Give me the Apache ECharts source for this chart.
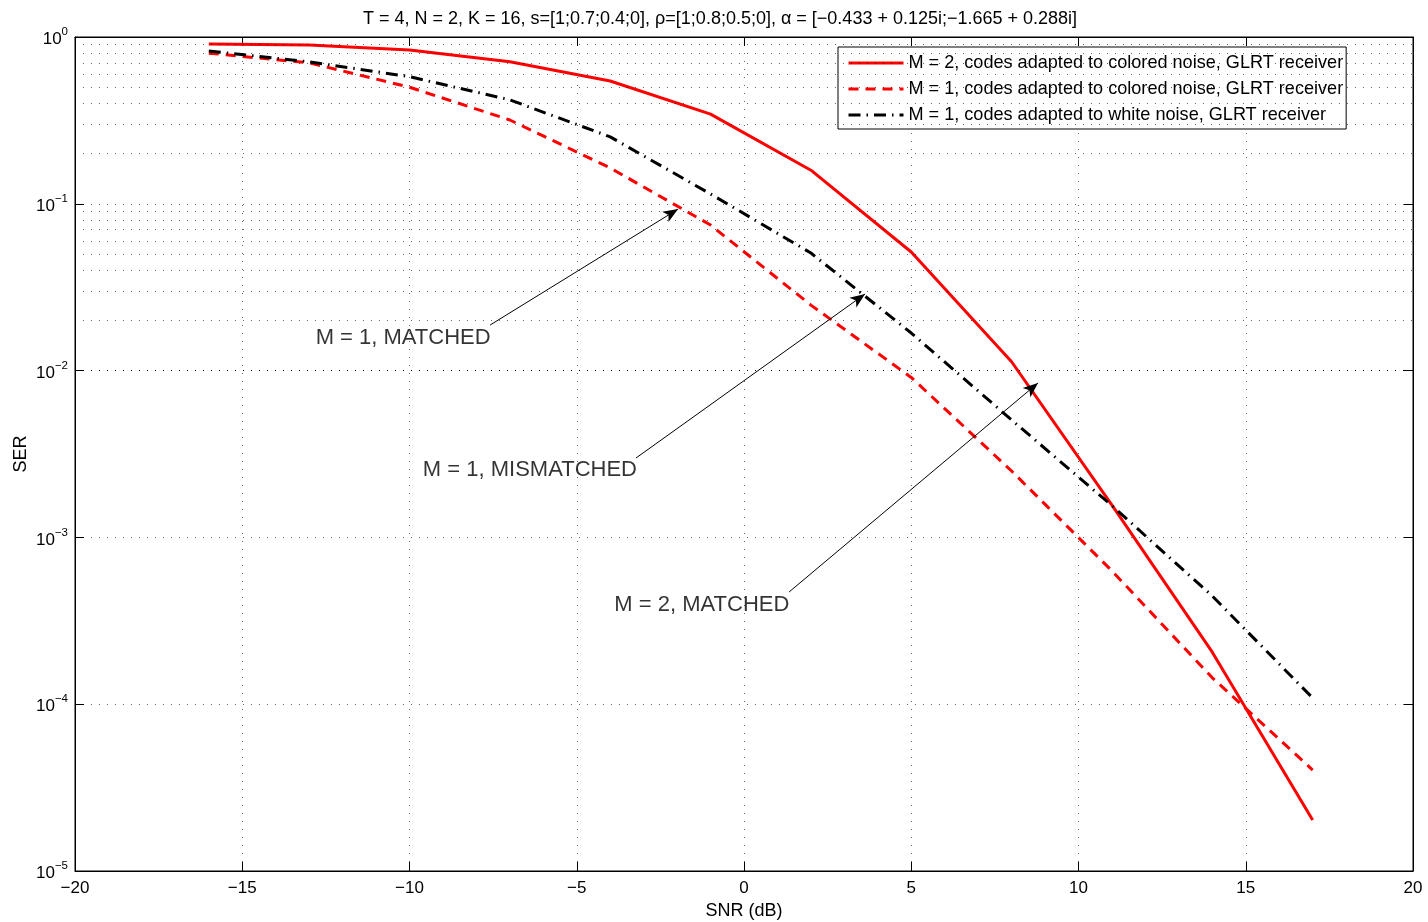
<!DOCTYPE html>
<html><head><meta charset="utf-8">
<script src="https://cdn.jsdelivr.net/npm/echarts@6/dist/echarts.min.js"></script>
<style>html,body{margin:0;padding:0;background:#fff}#c{width:1428px;height:922px}</style>
</head><body><div id="c"></div>
<script>
const snr = [-16, -13, -10, -7, -4, -1, 2, 5, 8, 11, 14, 17];
const serM2Colored = [0.908, 0.895, 0.836, 0.71, 0.545, 0.345, 0.159, 0.0514, 0.0113, 1.56e-3, 2.05e-4, 2.02e-5];
const serM1Colored = [0.80, 0.70, 0.50, 0.318, 0.164, 0.0746, 0.0247, 9.1e-3, 2.5e-3, 6.3e-4, 1.44e-4, 4.03e-5];
const serM1White = [0.824, 0.71, 0.578, 0.42, 0.252, 0.1145, 0.0507, 0.0168, 5.06e-3, 1.55e-3, 4.45e-4, 1.09e-4];
const seriesNames = [
  'M = 2, codes adapted to colored noise, GLRT receiver',
  'M = 1, codes adapted to colored noise, GLRT receiver',
  'M = 1, codes adapted to white noise, GLRT receiver'
];
const titleText = 'T = 4, N = 2, K = 16, s=[1;0.7;0.4;0], \u03c1=[1;0.8;0.5;0], \u03b1 = [\u22120.433 + 0.125i;\u22121.665 + 0.288i]';
const annotationText = ['M = 1, MATCHED', 'M = 1, MISMATCHED', 'M = 2, MATCHED'];
const annotationTextPos = [[-10.19, 0.01567], [-6.40, 0.00254], [-1.26, 3.93e-4]];
const arrowStart = [[-7.59, 0.01876], [-3.23, 0.00299], [1.35, 4.71e-4]];
const arrowEnd = [[-1.97, 0.093], [3.62, 0.0288], [8.79, 8.43e-3]];
const xMin = -20, xMax = 20, xStep = 5;
const yMin = 1e-5, yMax = 1;

const minorGrid = [];
for (let e = -5; e < 0; e++) for (let k = 2; k <= 9; k++) minorGrid.push(k * Math.pow(10, e));

const FONT = 'Liberation Sans, Arial, Helvetica, sans-serif';
const minus = s => String(s).replace('-', '\u2212');
const pair = (a, b) => a.map((v, i) => [v, b[i]]);
const dotted = { color: 'rgba(0,0,0,0.6)', width: 1, type: [1, 7] };
const boxAxisLine = { show: true, onZero: false, lineStyle: { color: '#000' } };
const boxTick = { show: true, inside: true, length: 9, lineStyle: { color: '#000' } };

const chart = echarts.init(document.getElementById('c'), null, { renderer: 'canvas' });
chart.setOption({
  animation: false,
  backgroundColor: '#fff',
  title: {
    text: titleText, left: 715, top: 5, textAlign: 'center',
    textStyle: { fontFamily: FONT, fontSize: 18, fontWeight: 'normal', color: '#000' }
  },
  grid: {
    left: 75, right: 15, top: 37, bottom: 51, show: true, borderColor: '#000', borderWidth: 1,
    backgroundColor: 'transparent', containLabel: false, outerBoundsMode: 'none'
  },
  legend: {
    data: seriesNames, orient: 'vertical', left: 838, top: 47,
    width: 510, padding: [6, 3, 4, 9], itemGap: 6, itemWidth: 55, itemHeight: 14,
    backgroundColor: '#fff', borderColor: '#000', borderWidth: 1, borderRadius: 0,
    itemStyle: { opacity: 0 },
    lineStyle: { width: 3 },
    textStyle: { fontFamily: FONT, fontSize: 18.1, color: '#000', lineHeight: 20 },
    selectedMode: false
  },
  xAxis: [{
    type: 'value', min: xMin, max: xMax, interval: xStep,
    name: 'SNR (dB)', nameLocation: 'middle', nameGap: 29,
    nameTextStyle: { fontFamily: FONT, fontSize: 18, color: '#000' },
    axisLine: boxAxisLine, axisTick: boxTick,
    axisLabel: { fontFamily: FONT, fontSize: 17, color: '#000', margin: 9, formatter: v => minus(v) },
    splitLine: { show: true, lineStyle: dotted }
  }, {
    type: 'value', min: xMin, max: xMax, interval: xStep, position: 'top',
    axisLine: boxAxisLine, axisTick: boxTick,
    axisLabel: { show: false }, splitLine: { show: false }
  }],
  yAxis: [{
    type: 'log', logBase: 10, min: yMin, max: yMax,
    name: 'SER', nameLocation: 'middle', nameGap: 45, nameRotate: 90, nameMoveOverlap: false,
    nameTextStyle: { fontFamily: FONT, fontSize: 18, color: '#000' },
    axisLine: boxAxisLine, axisTick: boxTick,
    axisLabel: {
      fontFamily: FONT, fontSize: 17, color: '#000', margin: 7,
      formatter: v => '{b|10}{e|' + minus(Math.round(Math.log10(v))) + '}',
      rich: {
        b: { fontFamily: FONT, fontSize: 17, color: '#000', verticalAlign: 'bottom' },
        e: { fontFamily: FONT, fontSize: 11.5, color: '#000', verticalAlign: 'bottom', padding: [0, 0, 10, 0] }
      }
    },
    splitLine: { show: true, lineStyle: dotted }
  }, {
    type: 'log', logBase: 10, min: yMin, max: yMax, position: 'right',
    axisLine: boxAxisLine, axisTick: boxTick,
    axisLabel: { show: false }, splitLine: { show: false }
  }],
  series: [
    {
      type: 'line', name: 'minorGrid', data: [], z: 1, silent: true,
      markLine: {
        silent: true, symbol: ['none', 'none'], label: { show: false },
        lineStyle: dotted, animation: false,
        data: minorGrid.map(v => ({ yAxis: v }))
      }
    },
    {
      type: 'line', name: seriesNames[0], data: pair(snr, serM2Colored), symbol: 'none', z: 3,
      lineStyle: { color: '#ff0000', width: 3, type: 'solid' }, itemStyle: { color: '#ff0000' }
    },
    {
      type: 'line', name: seriesNames[1], data: pair(snr, serM1Colored), symbol: 'none', z: 3,
      lineStyle: { color: '#ff0000', width: 3, type: [10, 7] }, itemStyle: { color: '#ff0000' }
    },
    {
      type: 'line', name: seriesNames[2], data: pair(snr, serM1White), symbol: 'none', z: 3,
      lineStyle: { color: '#000', width: 3, type: [12, 6, 1.5, 6] }, itemStyle: { color: '#000' }
    },
    {
      type: 'scatter', name: 'annotations', z: 5, silent: true, symbolSize: 0,
      data: annotationText.map((t, i) => ({ name: t, value: annotationTextPos[i] })),
      label: { show: true, position: 'inside', formatter: p => p.name, fontFamily: FONT, fontSize: 22, color: '#000' },
      markLine: {
        silent: true, symbol: ['none', 'arrow'], symbolSize: [9, 15], label: { show: false },
        lineStyle: { color: '#000', width: 1, type: 'solid' }, itemStyle: { color: '#000' },
        data: arrowStart.map((s, i) => [{ coord: s }, { coord: arrowEnd[i] }])
      }
    }
  ]
});
</script></body></html>
